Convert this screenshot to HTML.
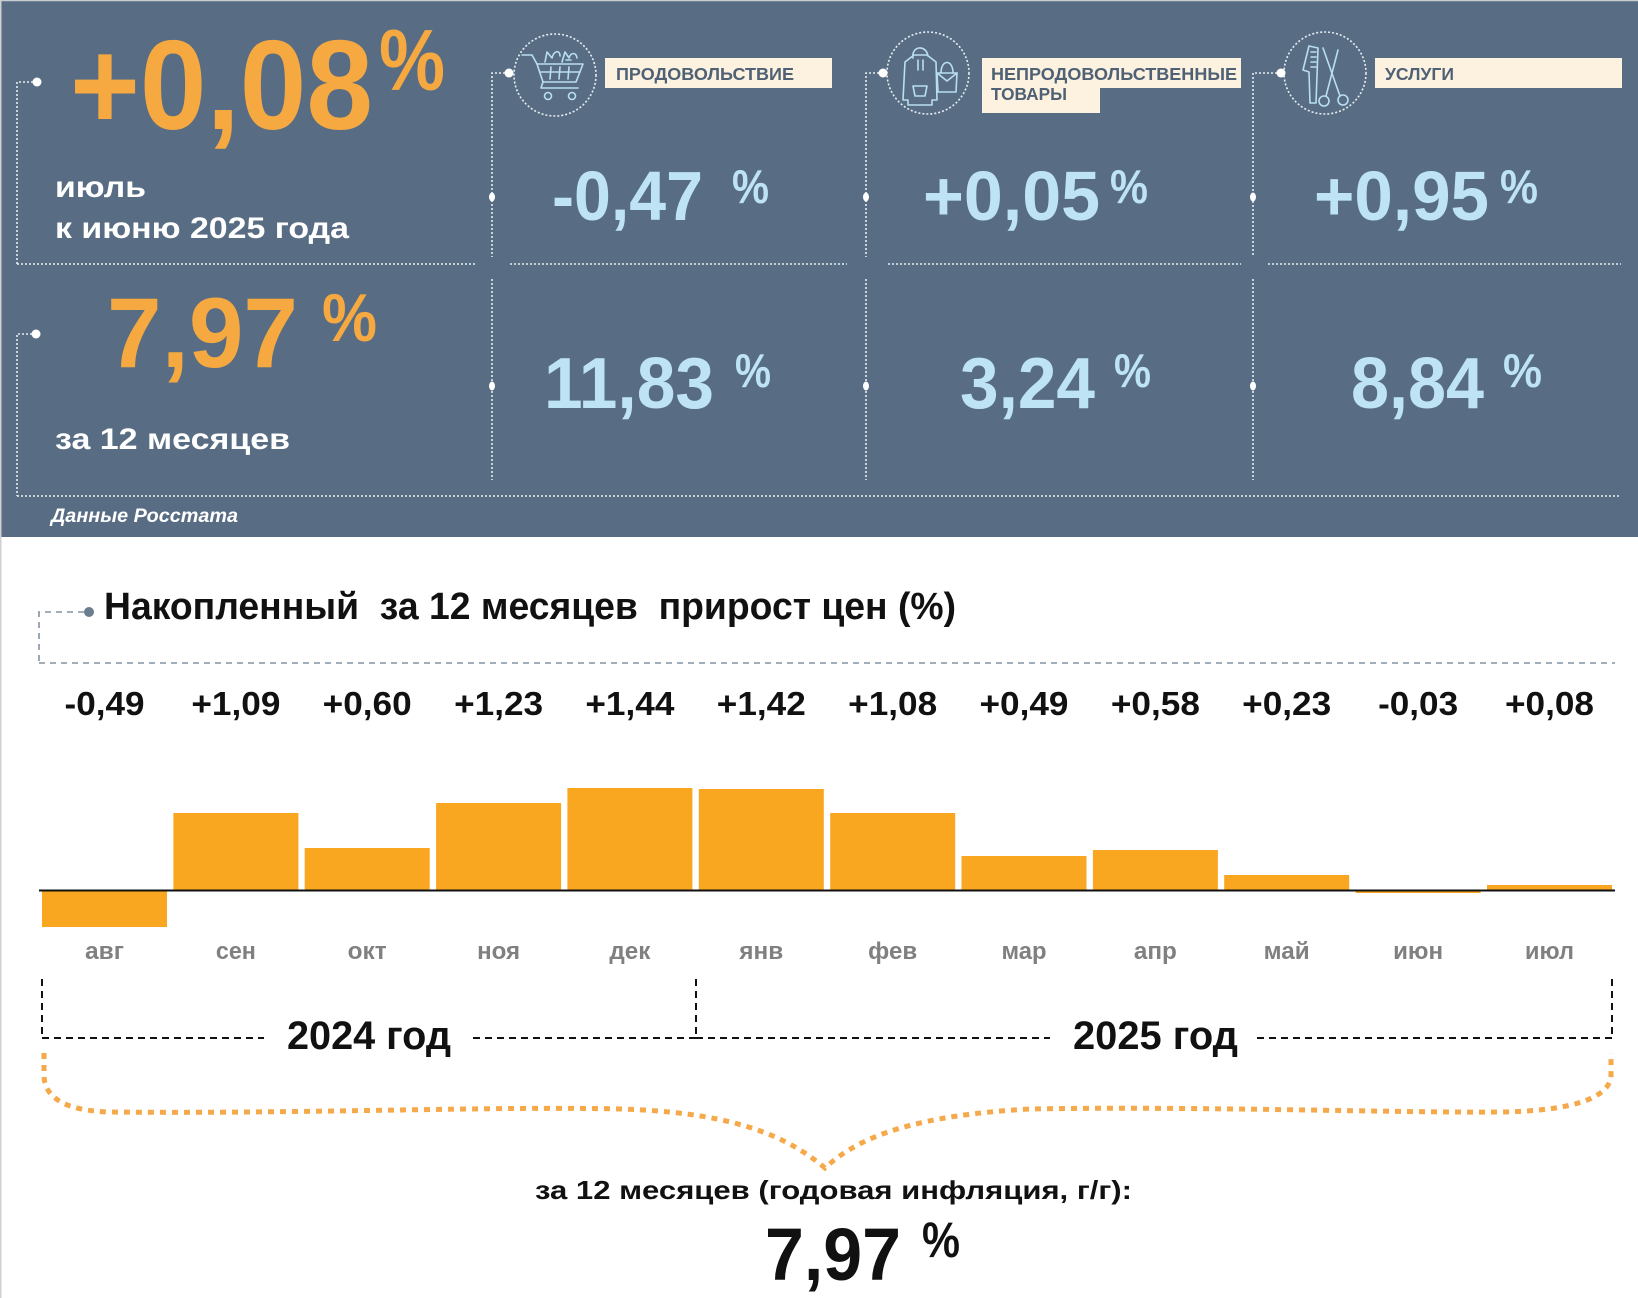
<!DOCTYPE html>
<html><head><meta charset="utf-8"><style>
html,body{margin:0;padding:0;background:#fff;}
svg{display:block;}
text{font-family:"Liberation Sans","DejaVu Sans",sans-serif;}
</style></head><body>
<svg width="1638" height="1298" viewBox="0 0 1638 1298" xmlns="http://www.w3.org/2000/svg">
<rect x="0" y="0" width="1638" height="1298" fill="#ffffff"/>
<!-- Top panel -->
<rect x="0" y="0" width="1638" height="537" fill="#586d83"/>
<line x1="0" y1="0.5" x2="1638" y2="0.5" stroke="#c9cdd2" stroke-width="1.5"/>
<line x1="0.75" y1="0" x2="0.75" y2="1298" stroke="#d0d0d0" stroke-width="1.5"/>

<g stroke="#e6edf2" stroke-width="1.6" stroke-dasharray="2 2" fill="none">
  <polyline points="37,82 17,82 17,264"/>
  <line x1="17" y1="264" x2="477" y2="264"/>
  <polyline points="36,334 17,334 17,496"/>
  <line x1="17" y1="496" x2="1621" y2="496"/>
  <line x1="510" y1="264" x2="847" y2="264"/>
  <line x1="888" y1="264" x2="1241" y2="264"/>
  <line x1="1268" y1="264" x2="1621" y2="264"/>
  <polyline points="509,73 492,73 492,257"/>
  <line x1="492" y1="279" x2="492" y2="480"/>
  <polyline points="883,73 866,73 866,257"/>
  <line x1="866" y1="279" x2="866" y2="480"/>
  <polyline points="1281,73 1253,73 1253,257"/>
  <line x1="1253" y1="279" x2="1253" y2="480"/>
  <circle cx="555" cy="75" r="41"/>
  <circle cx="928" cy="73" r="41"/>
  <circle cx="1325" cy="73" r="41"/>
</g>
<g fill="#ffffff">
  <circle cx="37" cy="82" r="4.5"/>
  <circle cx="36" cy="334" r="4.5"/>
  <circle cx="509" cy="73" r="4.5"/>
  <circle cx="883" cy="73" r="4.5"/>
  <circle cx="1281" cy="73" r="4.5"/>
  <ellipse cx="492" cy="197" rx="3" ry="4.5"/>
  <ellipse cx="492" cy="386" rx="3" ry="4.5"/>
  <ellipse cx="866" cy="197" rx="3" ry="4.5"/>
  <ellipse cx="866" cy="386" rx="3" ry="4.5"/>
  <ellipse cx="1253" cy="197" rx="3" ry="4.5"/>
  <ellipse cx="1253" cy="386" rx="3" ry="4.5"/>
</g>

<!-- icons -->
<g stroke="#b9def0" stroke-width="1.6" fill="none" stroke-linejoin="round" stroke-linecap="round">
  <polyline points="522,55 532,55 537,64"/>
  <polygon points="537,64 583,64 576,82 543,82"/>
  <polyline points="543,82 541,88 578,88"/>
  <circle cx="548" cy="96" r="3.5"/>
  <circle cx="572" cy="96" r="3.5"/>
  <line x1="540" y1="72" x2="580" y2="72"/>
  <line x1="551" y1="67" x2="550" y2="79"/>
  <line x1="560" y1="67" x2="559" y2="79"/>
  <line x1="569" y1="67" x2="568" y2="79"/>
  <path d="M545,62 L547,52 L552,58 M552,58 C554,50 560,50 560,56 M562,62 L565,52 L569,58 C571,52 576,52 577,58 M566,60 L571,60"/>
  <path d="M913,58 C911,46 926,44 928,56"/>
  <path d="M905,62 L914,55 L927,55 L936,62 L937,100 L932,100 L932,105 L908,105 L908,100 L903,100 Z"/>
  <path d="M913,86 L927,86 L925,96 L915,96 Z"/>
  <line x1="918" y1="60" x2="918" y2="70"/>
  <line x1="923" y1="60" x2="923" y2="70"/>
  <path d="M941,73 C941,59 953,59 953,73"/>
  <path d="M937,73 L957,73 L956,92 L938,92 Z"/>
  <path d="M937,73 L947,81 L957,73"/>
  <path d="M1309,46 L1318,48 L1316,103 L1310,103 L1309,72 L1303,70 Z"/>
  <line x1="1311" y1="52" x2="1316" y2="52"/>
  <line x1="1311" y1="57" x2="1316" y2="57"/>
  <line x1="1311" y1="62" x2="1316" y2="62"/>
  <line x1="1311" y1="67" x2="1316" y2="67"/>
  <path d="M1323,48 L1340,96"/>
  <path d="M1338,50 L1326,96"/>
  <circle cx="1324" cy="101" r="5"/>
  <circle cx="1343" cy="100" r="5"/>
</g>

<!-- labels -->
<rect x="605" y="58" width="227" height="30" fill="#fdf2e0"/>
<rect x="982" y="58" width="259" height="30" fill="#fdf2e0"/>
<rect x="982" y="87" width="118" height="26" fill="#fdf2e0"/>
<rect x="1375" y="58" width="247" height="30" fill="#fdf2e0"/>
<g fill="#4f6175" font-weight="bold" font-size="17.5">
  <text x="616" y="80" textLength="178" lengthAdjust="spacingAndGlyphs">ПРОДОВОЛЬСТВИЕ</text>
  <text x="991" y="80" textLength="246" lengthAdjust="spacingAndGlyphs">НЕПРОДОВОЛЬСТВЕННЫЕ</text>
  <text x="991" y="100" textLength="76" lengthAdjust="spacingAndGlyphs">ТОВАРЫ</text>
  <text x="1385" y="80" textLength="69" lengthAdjust="spacingAndGlyphs">УСЛУГИ</text>
</g>

<!-- big left values -->
<g fill="#f6a941" font-weight="bold">
  <text x="70" y="129" font-size="127" textLength="303" lengthAdjust="spacingAndGlyphs">+0,08</text>
  <text x="379" y="90" font-size="86" textLength="66" lengthAdjust="spacingAndGlyphs">%</text>
  <text x="107" y="367" font-size="99" textLength="191" lengthAdjust="spacingAndGlyphs">7,97</text>
  <text x="322" y="341" font-size="68" textLength="55" lengthAdjust="spacingAndGlyphs">%</text>
</g>
<g fill="#ffffff" font-weight="bold" font-size="30">
  <text x="55" y="197" textLength="91" lengthAdjust="spacingAndGlyphs">июль</text>
  <text x="55" y="238" textLength="294" lengthAdjust="spacingAndGlyphs">к июню 2025 года</text>
  <text x="55" y="449" textLength="235" lengthAdjust="spacingAndGlyphs">за 12 месяцев</text>
  <text x="51" y="522" font-size="19" font-style="italic" textLength="187" lengthAdjust="spacingAndGlyphs">Данные Росстата</text>
</g>

<!-- light blue values -->
<g fill="#bde3f5" font-weight="bold">
  <text x="552" y="220" font-size="70" textLength="151" lengthAdjust="spacingAndGlyphs">-0,47</text>
  <text x="732" y="203" font-size="47" textLength="37" lengthAdjust="spacingAndGlyphs">%</text>
  <text x="923" y="220" font-size="70" textLength="177" lengthAdjust="spacingAndGlyphs">+0,05</text>
  <text x="1110" y="203" font-size="47" textLength="38" lengthAdjust="spacingAndGlyphs">%</text>
  <text x="1314" y="220" font-size="70" textLength="175" lengthAdjust="spacingAndGlyphs">+0,95</text>
  <text x="1500" y="203" font-size="47" textLength="38" lengthAdjust="spacingAndGlyphs">%</text>

  <text x="544" y="408" font-size="72" textLength="170" lengthAdjust="spacingAndGlyphs">11,83</text>
  <text x="735" y="387" font-size="47" textLength="36" lengthAdjust="spacingAndGlyphs">%</text>
  <text x="960" y="408" font-size="72" textLength="135" lengthAdjust="spacingAndGlyphs">3,24</text>
  <text x="1114" y="387" font-size="47" textLength="37" lengthAdjust="spacingAndGlyphs">%</text>
  <text x="1351" y="408" font-size="72" textLength="133" lengthAdjust="spacingAndGlyphs">8,84</text>
  <text x="1503" y="387" font-size="47" textLength="39" lengthAdjust="spacingAndGlyphs">%</text>
</g>

<!-- Lower section -->
<g stroke="#8393a3" stroke-width="1.6" stroke-dasharray="6 5" fill="none">
  <polyline points="84,612 39,612 39,663"/>
  <line x1="39" y1="663" x2="1615" y2="663"/>
</g>
<circle cx="89" cy="612" r="5" fill="#6b7d8f"/>
<text x="104" y="619" font-size="38" font-weight="bold" fill="#111" textLength="852" lengthAdjust="spacingAndGlyphs" xml:space="preserve" style="white-space:pre">Накопленный  за 12 месяцев  прирост цен (%)</text>

<!-- value labels -->
<g fill="#111" font-weight="bold" font-size="33" text-anchor="middle">
  <text x="104.5" y="715" textLength="80" lengthAdjust="spacingAndGlyphs">-0,49</text>
  <text x="235.9" y="715" textLength="89" lengthAdjust="spacingAndGlyphs">+1,09</text>
  <text x="367.2" y="715" textLength="89" lengthAdjust="spacingAndGlyphs">+0,60</text>
  <text x="498.6" y="715" textLength="89" lengthAdjust="spacingAndGlyphs">+1,23</text>
  <text x="629.9" y="715" textLength="89" lengthAdjust="spacingAndGlyphs">+1,44</text>
  <text x="761.3" y="715" textLength="89" lengthAdjust="spacingAndGlyphs">+1,42</text>
  <text x="892.7" y="715" textLength="89" lengthAdjust="spacingAndGlyphs">+1,08</text>
  <text x="1024.0" y="715" textLength="89" lengthAdjust="spacingAndGlyphs">+0,49</text>
  <text x="1155.4" y="715" textLength="89" lengthAdjust="spacingAndGlyphs">+0,58</text>
  <text x="1286.7" y="715" textLength="89" lengthAdjust="spacingAndGlyphs">+0,23</text>
  <text x="1418.1" y="715" textLength="80" lengthAdjust="spacingAndGlyphs">-0,03</text>
  <text x="1549.5" y="715" textLength="89" lengthAdjust="spacingAndGlyphs">+0,08</text>
</g>

<!-- bars -->
<g fill="#f9a620">
  <rect x="42" y="890" width="125" height="37"/>
  <rect x="173.4" y="813" width="125" height="77"/>
  <rect x="304.7" y="848" width="125" height="42"/>
  <rect x="436.1" y="803" width="125" height="87"/>
  <rect x="567.4" y="788" width="125" height="102"/>
  <rect x="698.8" y="789" width="125" height="101"/>
  <rect x="830.2" y="813" width="125" height="77"/>
  <rect x="961.5" y="856" width="125" height="34"/>
  <rect x="1092.9" y="850" width="125" height="40"/>
  <rect x="1224.2" y="875" width="125" height="15"/>
  <rect x="1355.6" y="890" width="125" height="3"/>
  <rect x="1487" y="885" width="125" height="5"/>
</g>
<line x1="39" y1="890.5" x2="1615" y2="890.5" stroke="#111" stroke-width="2"/>

<!-- month labels -->
<g fill="#808080" font-weight="bold" font-size="24" text-anchor="middle">
  <text x="104.5" y="959" textLength="39" lengthAdjust="spacingAndGlyphs">авг</text>
  <text x="235.9" y="959" textLength="40" lengthAdjust="spacingAndGlyphs">сен</text>
  <text x="367.2" y="959" textLength="39" lengthAdjust="spacingAndGlyphs">окт</text>
  <text x="498.6" y="959" textLength="43" lengthAdjust="spacingAndGlyphs">ноя</text>
  <text x="629.9" y="959" textLength="41" lengthAdjust="spacingAndGlyphs">дек</text>
  <text x="761.3" y="959" textLength="44" lengthAdjust="spacingAndGlyphs">янв</text>
  <text x="892.7" y="959" textLength="49" lengthAdjust="spacingAndGlyphs">фев</text>
  <text x="1024.0" y="959" textLength="45" lengthAdjust="spacingAndGlyphs">мар</text>
  <text x="1155.4" y="959" textLength="43" lengthAdjust="spacingAndGlyphs">апр</text>
  <text x="1286.7" y="959" textLength="46" lengthAdjust="spacingAndGlyphs">май</text>
  <text x="1418.1" y="959" textLength="50" lengthAdjust="spacingAndGlyphs">июн</text>
  <text x="1549.5" y="959" textLength="49" lengthAdjust="spacingAndGlyphs">июл</text>
</g>

<!-- year brackets -->
<g stroke="#111" stroke-width="2" stroke-dasharray="7 5" fill="none">
  <line x1="42" y1="979" x2="42" y2="1038"/>
  <line x1="42" y1="1038" x2="264" y2="1038"/>
  <line x1="473" y1="1038" x2="696" y2="1038"/>
  <line x1="696" y1="979" x2="696" y2="1038"/>
  <line x1="696" y1="1038" x2="1050" y2="1038"/>
  <line x1="1257" y1="1038" x2="1612" y2="1038"/>
  <line x1="1612" y1="979" x2="1612" y2="1038"/>
</g>
<g fill="#111" font-weight="bold" font-size="40">
  <text x="287" y="1049" textLength="164" lengthAdjust="spacingAndGlyphs">2024 год</text>
  <text x="1073" y="1049" textLength="165" lengthAdjust="spacingAndGlyphs">2025 год</text>
</g>

<!-- orange brace -->
<path d="M44,1053 L44,1075 C44,1100 70,1111 110,1112 C300,1114 500,1106 620,1109 C720,1112 780,1130 825,1168 C860,1135 920,1115 1030,1109 C1200,1106 1400,1113 1500,1112 C1580,1111 1611,1095 1611,1075 L1611,1053" fill="none" stroke="#f5a94a" stroke-width="5" stroke-dasharray="6 6"/>

<text x="535" y="1199" font-size="26" font-weight="bold" fill="#111" textLength="597" lengthAdjust="spacingAndGlyphs">за 12 месяцев (годовая инфляция, г/г):</text>
<text x="765" y="1280" font-size="74" font-weight="bold" fill="#111" textLength="136" lengthAdjust="spacingAndGlyphs">7,97</text>
<text x="922" y="1257" font-size="50" font-weight="bold" fill="#111" textLength="38" lengthAdjust="spacingAndGlyphs">%</text>
</svg>
</body></html>
